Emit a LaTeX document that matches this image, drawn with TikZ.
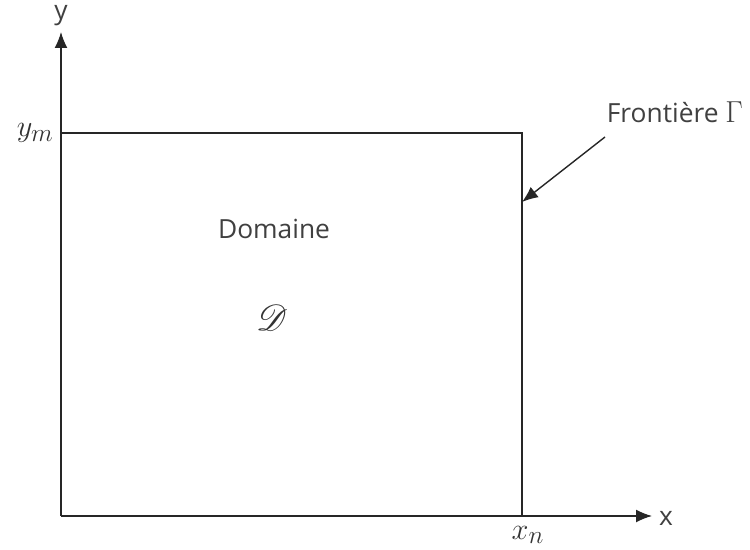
\documentclass[tikz,border=0pt]{standalone}
\usepackage{fontspec}
\usepackage{mathrsfs}
\setsansfont{Open Sans}
\usetikzlibrary{arrows.meta}
\tikzset{axe/.style={-{Latex[length=3.2mm,width=2.6mm]},line width=0.8pt,draw=black!85},
  bord/.style={line width=0.8pt,draw=black!85},
  lbl/.style={font=\sffamily\fontsize{15}{17}\selectfont,text=black!75},
  mlbl/.style={font=\fontsize{19}{21}\selectfont,text=black!80}}

\begin{document}
\begin{tikzpicture}[x=0.02cm,y=-0.02cm]
      \useasboundingbox (0,0) rectangle (750,550);
      \coordinate (O) at (61,516);
      \coordinate (ytip) at (61,32);
      \coordinate (xtip) at (652,516);
      \coordinate (ym) at (61,133);
      \coordinate (xn) at (522,516);
      \coordinate (c) at (522,133);
      \coordinate (fin) at (522,202);
      \coordinate (debut) at (605,137);

      \draw[bord] (ym) -- (c) -- (xn);
      \draw[axe] (O) -- (ytip);
      \draw[axe] (O) -- (xtip);

      \node [lbl] (ly) at (61,16) {y};
      \node [lbl] (lx) at (666,518) {x};
      \node [left,mlbl] (lym) at (60,133) {$y_m$};
      \node [mlbl] (lxn) at (528,535) {$x_n$};
      \node [lbl] (dom) at (274,229) {Domaine};
      \node [font=\fontsize{22}{24}\selectfont,text=black!80] (D) at (272,318) {$\mathscr{D}$};
      \node [lbl,anchor=east,inner sep=1pt] (front) at (745,112) {Frontière {\fontsize{17}{19}\selectfont$\Gamma$}};

      \draw[axe] (debut) -- (fin);
    \end{tikzpicture}
\end{document}
